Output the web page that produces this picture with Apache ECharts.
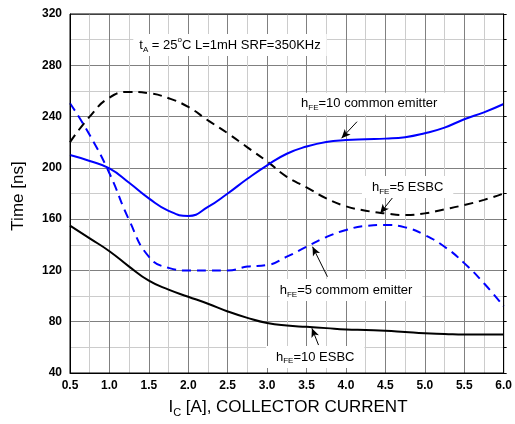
<!DOCTYPE html>
<html><head><meta charset="utf-8">
<script src="https://cdn.jsdelivr.net/npm/echarts@6/dist/echarts.min.js"></script>
<style>html,body{margin:0;padding:0;background:#fff}#c{width:515px;height:424px}</style>
</head><body><div id="c"></div>
<script>
// ---- data ----
const currentA = [0.5,0.75,1.0,1.25,1.5,1.75,2.0,2.25,2.5,2.75,3.0,3.25,3.5,3.75,4.0,4.25,4.5,4.75,5.0,5.25,5.5,5.75,6.0];
const hfe10Esbc = [155,145,135,123,112,105,99.5,94,88,83,79,77,76,75,74,73.5,73,72,71,70.5,70,70,70];
const hfe5Esbc = [220,240,254.8,259.2,258.2,254.3,247.5,237,227,216,205,193,184.8,176.2,170,166.6,164.5,163.2,164.5,167.6,171,175,180];
const hfe10Ce = [210,205.4,199.6,188.4,176.2,166.5,162.5,169.5,180,191.5,202,211,216.6,220.2,221.7,222.3,222.8,223.9,227,231.4,237.9,243.3,249.8];
const hfe5Ce = [250.4,225.6,195.8,159.3,130.7,122,120,120,120,123,124.2,130.7,138.5,146,151.5,154.7,155.4,153.6,147.6,138.5,125.7,110,92];
const xMin = 0.5, xMax = 6.0, xStep = 0.5;
const yMin = 40, yMax = 320, yStep = 40;

// annotations (data coords): label anchor [x, y] (left, middle), arrow from -> to
const annotations = [
  {parts:[['h'],['FE','sub'],['=10 common emitter']], at:[3.43,250], arrow:[[4.14,236],[3.944,223.1]]},
  {parts:[['h'],['FE','sub'],['=5 ESBC']], at:[4.33,185], arrow:[[4.618,178.8],[4.434,164.6]]},
  {parts:[['h'],['FE','sub'],['=5 commom emitter']], at:[3.16,104.7], arrow:[[3.765,115.1],[3.576,138.5]]},
  {parts:[['h'],['FE','sub'],['=10 ESBC']], at:[3.112,52.5], arrow:[[3.652,61.8],[3.568,74.9]]}
];
const condition = {parts:[['t'],['A','sub'],[' = 25'],['o','sup'],['C L=1mH SRF=350KHz']], at:[1.379,295.8]};

const FONT = "'Liberation Sans', Arial, sans-serif";
const pair = arr => currentA.map((x,i)=>[x,arr[i]]);

const chart = echarts.init(document.getElementById('c'));
const mk = (name, arr, color, dashed) => ({
  name, type:'line', data: pair(arr), smooth:0.5, symbol:'none',
  lineStyle:{color, width:2, type: dashed ? [9,6] : 'solid'}, z:3
});
const arrowLines = annotations.map(a => [{coord:a.arrow[0]},{coord:a.arrow[1]}]);
const s1 = mk('hFE=10 ESBC', hfe10Esbc, '#000', false);
s1.markLine = {silent:true, symbol:['none','arrow'], symbolSize:[6,9], label:{show:false},
  lineStyle:{color:'#000', width:1, type:'solid'}, data: arrowLines, animation:false};

chart.setOption({
  animation:false,
  grid:{left:70, right:7, top:14, bottom:51, show:true, borderColor:'#000', borderWidth:1, backgroundColor:'transparent', z:5},
  xAxis:{type:'value', min:xMin, max:xMax, interval:xStep,
    axisLine:{show:true, lineStyle:{color:'#000', width:1}}, axisTick:{show:false},
    axisLabel:{color:'#000', fontWeight:'bold', fontSize:12, fontFamily:FONT, margin:7, formatter:v=>v.toFixed(1)},
    splitLine:{show:true, lineStyle:{color:'#808080', width:1}},
    minorTick:{show:false, splitNumber:2}, minorSplitLine:{show:true, lineStyle:{color:'#cccccc', width:1}}},
  yAxis:[{type:'value', min:yMin, max:yMax, interval:yStep,
    axisLine:{show:true, lineStyle:{color:'#000', width:1}}, axisTick:{show:false},
    axisLabel:{color:'#000', fontWeight:'bold', fontSize:12, fontFamily:FONT, margin:8},
    splitLine:{show:true, lineStyle:{color:'#808080', width:1}},
    minorTick:{show:false, splitNumber:2}, minorSplitLine:{show:true, lineStyle:{color:'#cccccc', width:1}}},
   {type:'value', position:'right', min:yMin, max:yMax, interval:20,
    axisLine:{show:true, lineStyle:{color:'#000'}}, axisTick:{show:true, length:3, lineStyle:{color:'#000'}},
    axisLabel:{show:false}, splitLine:{show:false}}],
  series:[s1, mk('hFE=5 ESBC', hfe5Esbc, '#000', true), mk('hFE=10 common emitter', hfe10Ce, '#0000ff', false), mk('hFE=5 commom emitter', hfe5Ce, '#0000ff', true)]
});

// ---- text annotations with sub/superscripts ----
const ctx = document.createElement('canvas').getContext('2d');
function row(parts, x, yc, size, color, subSize) {
  const els = []; let cx = x;
  for (const [t, kind] of parts) {
    const s = kind ? (subSize || Math.round(size*0.62)) : size;
    const dy = kind === 'sub' ? size*0.33 : kind === 'sup' ? -size*0.38 : 0;
    const f = s + 'px ' + FONT;
    ctx.font = f;
    const w = ctx.measureText(t).width;
    els.push({type:'text', x:cx, y:yc+dy, z:100, silent:true,
      style:{text:t, font:f, fill:color||'#000', textAlign:'left', align:'left', textVerticalAlign:'middle', verticalAlign:'middle'}});
    cx += w;
  }
  return {els, width: cx - x};
}
const gr = [];
function label(a, size, padX, halfH) {
  const p = chart.convertToPixel({gridIndex:0}, a.at);
  const r = row(a.parts, p[0], p[1], size);
  gr.push({type:'rect', z:90, silent:true, shape:{x:p[0]-padX, y:p[1]-halfH, width:r.width+2*padX, height:2*halfH}, style:{fill:'#fff'}});
  gr.push(...r.els);
}
annotations.forEach(a => label(a, 13, 10, 11));
label(condition, 13, 6, 11);

// axis titles
const xt = row([['I'],['C','sub'],[' [A], COLLECTOR CURRENT']], 0, 407, 17, '#000', 11);
const xc = 288 - xt.width/2;
xt.els.forEach(e => e.x += xc);
gr.push(...xt.els);
gr.push({type:'text', x:18, y:196, rotation:Math.PI/2, z:100, silent:true,
  style:{text:'Time [ns]', font:'17px '+FONT, fill:'#000', textAlign:'center', align:'center', textVerticalAlign:'middle', verticalAlign:'middle'}});
chart.setOption({graphic: gr});
</script></body></html>
